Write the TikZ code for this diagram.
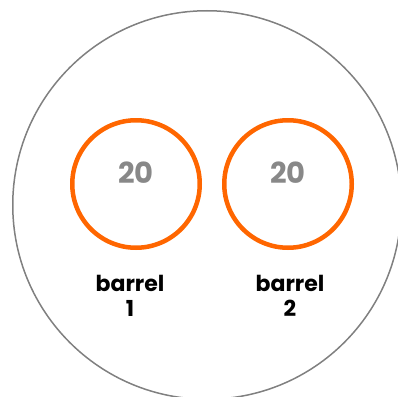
\documentclass[tikz,border=0pt]{standalone}
\usepackage{fontspec}
\setmainfont{Poppins}
\usetikzlibrary{positioning}
\definecolor{barrelorange}{HTML}{FF6600}
\definecolor{ringgray}{HTML}{808080}
\definecolor{valgray}{HTML}{888888}

\begin{document}
\begin{tikzpicture}[
  x=1pt, y=-1pt,
  ring/.style={draw=barrelorange, line width=4.5pt, circle, minimum size=127.5pt, inner sep=0pt},
  val/.style={font=\fontsize{29}{29}\selectfont\bfseries, text=valgray},
  lbl/.style={font=\fontsize{22}{25}\selectfont\bfseries, align=center}
]
  \useasboundingbox (0,0) rectangle (398,396);
  \node[draw=ringgray, line width=1.5pt, circle, minimum size=388.5pt, inner sep=0pt] (tank) at (207,205) {};

  \node[ring] (b1) at (136,184) {};
  \node[ring] (b2) at (288,184) {};
  \node[val] (v1) at (136,173) {20};
  \node[val] (v2) at (288,173) {20};

  \node[lbl] (l1) at (130,296) {barrel\\1};
  \node[lbl] (l2) at (290,296) {barrel\\2};
\end{tikzpicture}
\end{document}
